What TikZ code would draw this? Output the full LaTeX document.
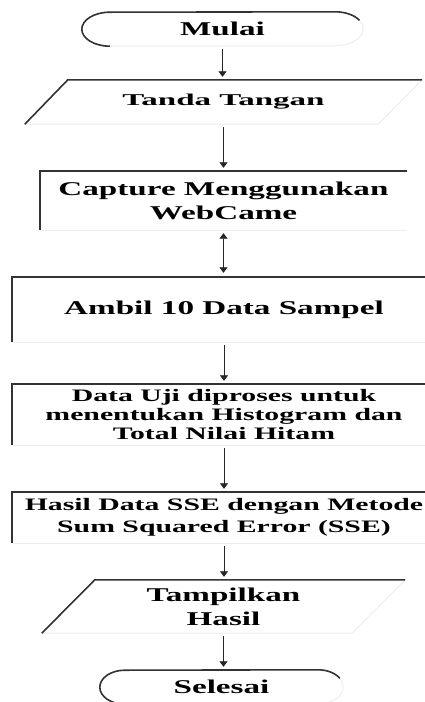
\documentclass[tikz,border=0pt]{standalone}
\usepackage{fontspec}
\newfontfamily\wfont[FakeStretch=1.7]{Liberation Serif}
\newfontfamily\wwfont[FakeStretch=2.0]{Liberation Serif}
\usetikzlibrary{arrows.meta}
\begin{document}
\begin{tikzpicture}[x=1pt,y=-1pt,
  box/.style={inner sep=0pt, align=center, font=\wfont\bfseries\fontsize{19.5}{24}\selectfont},
  edgedark/.style={draw=black!80, line width=1.6pt},
  edgefaint/.style={draw=black!7, line width=1pt},
  conn/.style={draw=black!85, line width=0.8pt, -{Triangle[width=8pt,length=5.5pt]}, shorten <=3pt, shorten >=3pt},
  dconn/.style={draw=black!85, line width=0.8pt, {Triangle[width=8pt,length=5.5pt]}-{Triangle[width=8pt,length=5.5pt]}, shorten <=3pt, shorten >=4pt}]
\useasboundingbox (0,0) rectangle (425,702);

% nodes
\node[box, minimum width=281pt, minimum height=34pt] (mulai) at (222.5,29) {Mulai};
\node[box, minimum width=397pt, minimum height=44pt, font=\wwfont\bfseries\fontsize{16.5}{20}\selectfont] (tanda) at (223.5,102) {Tanda Tangan};
\node[box, minimum width=367pt, minimum height=59pt] (capture) at (223.5,200.5) {Capture Menggunakan\\WebCame};
\node[box, minimum width=424pt, minimum height=65pt] (ambil) at (224,309.5) {Ambil 10 Data Sampel};
\node[box, minimum width=424pt, minimum height=61pt, font=\wfont\bfseries\fontsize{17.5}{19}\selectfont] (uji) at (224,414.5) {Data Uji diproses untuk\\menentukan Histogram dan\\Total Nilai Hitam};
\node[box, minimum width=424pt, minimum height=51pt, font=\wfont\bfseries\fontsize{17.5}{22}\selectfont] (hasil) at (224,517.5) {Hasil Data SSE dengan Metode\\Sum Squared Error (SSE)};
\node[box, minimum width=363pt, minimum height=53pt] (tampil) at (223.5,606.5) {Tampilkan\\Hasil};
\node[box, minimum width=243pt, minimum height=34pt] (selesai) at (221.5,687) {Selesai};

% Mulai terminator
\draw[edgefaint] ([xshift=28pt]mulai.north west) -- ([xshift=-28pt]mulai.north east)
  arc[start angle=90,end angle=-90,x radius=28pt,y radius=17pt]
  -- ([xshift=28pt]mulai.south west)
  arc[start angle=270,end angle=90,x radius=28pt,y radius=17pt] -- cycle;
\draw[edgedark] ([xshift=28pt]mulai.south west)
  arc[start angle=270,end angle=90,x radius=28pt,y radius=17pt]
  -- ([xshift=-28pt]mulai.north east)
  arc[start angle=90,end angle=30,x radius=28pt,y radius=17pt];

% Tanda Tangan parallelogram
\draw[edgefaint] ([xshift=43pt]tanda.north west) -- (tanda.north east) -- ([xshift=-44pt]tanda.south east) -- (tanda.south west) -- cycle;
\draw[edgedark] (tanda.south west) -- ([xshift=43pt]tanda.north west) -- (tanda.north east);

% process boxes
\foreach \b in {capture,ambil,uji,hasil}{
  \draw[edgefaint] (\b.south west) -- (\b.south east);
  \draw[edgedark] (\b.south west) -- (\b.north west) -- (\b.north east);
}

% Tampilkan parallelogram
\draw[edgefaint] ([xshift=53pt]tampil.north west) -- (tampil.north east) -- ([xshift=-53pt]tampil.south east) -- (tampil.south west) -- cycle;
\draw[edgedark] (tampil.south west) -- ([xshift=53pt]tampil.north west) -- (tampil.north east);

% Selesai terminator
\draw[edgefaint] ([xshift=25pt]selesai.north west) -- ([xshift=-25pt]selesai.north east)
  arc[start angle=90,end angle=-90,x radius=25pt,y radius=17pt]
  -- ([xshift=25pt]selesai.south west)
  arc[start angle=270,end angle=90,x radius=25pt,y radius=17pt] -- cycle;
\draw[edgedark] ([xshift=25pt]selesai.south west)
  arc[start angle=270,end angle=90,x radius=25pt,y radius=17pt]
  -- ([xshift=-25pt]selesai.north east)
  arc[start angle=90,end angle=30,x radius=25pt,y radius=17pt];

% connectors
\draw[conn] (mulai.south) -- (mulai.south |- tanda.north);
\draw[conn] (tanda.south) -- (tanda.south |- capture.north);
\draw[dconn] (capture.south) -- (capture.south |- ambil.north);
\draw[conn] (ambil.south) -- (ambil.south |- uji.north);
\draw[conn] (uji.south) -- (uji.south |- hasil.north);
\draw[conn] (hasil.south) -- (hasil.south |- tampil.north);
\draw[conn] (tampil.south) -- (tampil.south |- selesai.north);
\end{tikzpicture}
\end{document}
